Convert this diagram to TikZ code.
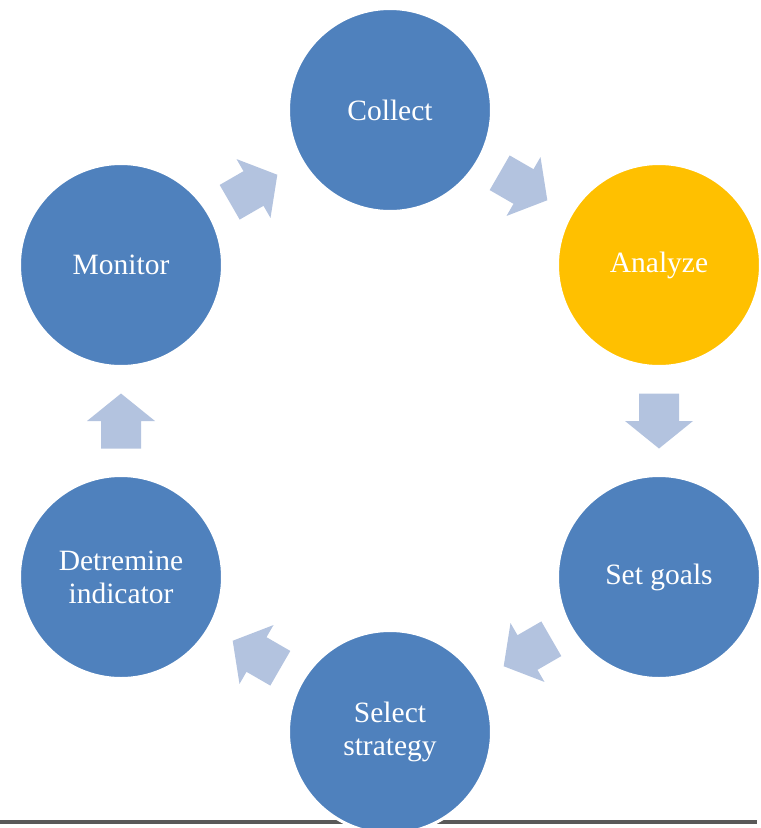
\documentclass[tikz,border=0pt]{standalone}
\usepackage{fontspec}
\setmainfont{Liberation Serif}
\usetikzlibrary{calc}
\definecolor{stageblue}{HTML}{4F81BD}
\definecolor{stagegold}{HTML}{FFC000}
\definecolor{arrowfill}{HTML}{B3C3DF}
\definecolor{rulegray}{HTML}{595959}
\tikzset{
  stage/.style={circle, fill=stageblue, draw=white, line width=3pt,
    minimum size=203pt, inner sep=0pt, text=white, align=center,
    font=\fontsize{29.5}{33}\selectfont},
  blockarrow/.pic={
    \fill[arrowfill] (-27.5,-20) -- (0,-20) -- (0,-34) -- (27.5,0)
      -- (0,34) -- (0,20) -- (-27.5,20) -- cycle;
  }
}
\begin{document}
\begin{tikzpicture}[x=1pt,y=-1pt]
  \useasboundingbox (0,0) rectangle (761,828);
  % base rule under the cycle
  \coordinate (ruleL) at (0,822);
  \coordinate (ruleR) at (757,822);
  \draw[rulegray, line width=4pt] (ruleL) -- (ruleR);
  % stages of the cycle
  \node[stage] (collect) at (390,110) {Collect};
  \node[stage, fill=stagegold] (analyze) at (659,265) {Analyze};
  \node[stage] (setgoals) at (659,577) {Set goals};
  \node[stage] (select) at (390,732) {Select\\strategy};
  \node[stage] (determine) at (121,577) {Detremine\\indicator};
  \node[stage] (monitor) at (121,265) {Monitor};
  % block arrows between consecutive stages
  \pic[rotate=30] at ($(monitor)!0.5!(collect)+(-2,1)$) {blockarrow};
  \pic[rotate=-30] at ($(collect)!0.5!(analyze)+(-1,-1)$) {blockarrow};
  \pic[rotate=-90] at ($(analyze)!0.5!(setgoals)$) {blockarrow};
  \pic[rotate=-150] at ($(setgoals)!0.5!(select)+(3,-2)$) {blockarrow};
  \pic[rotate=150] at ($(select)!0.5!(determine)+(1,0)$) {blockarrow};
  \pic[rotate=90] at ($(determine)!0.5!(monitor)$) {blockarrow};
\end{tikzpicture}
\end{document}
